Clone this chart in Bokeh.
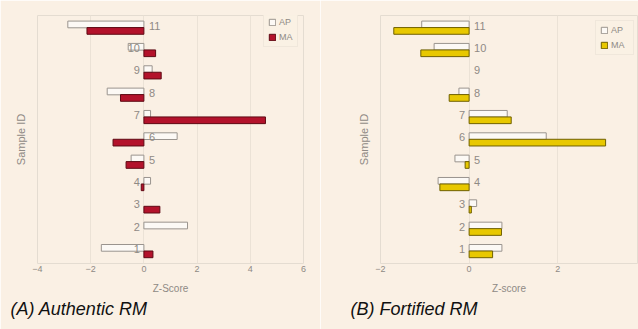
from bokeh.plotting import figure
from bokeh.layouts import row
from bokeh.models import ColumnDataSource, FixedTicker, Legend, LegendItem, Title, Range1d, LinearAxis
from bokeh.core.properties import value
from bokeh.embed import file_html
from bokeh.resources import INLINE

# ---------------- data ----------------
sample_ids = [1, 2, 3, 4, 5, 6, 7, 8, 9, 10, 11]
ap_authentic = [-1.60, 1.64, 0.0, 0.25, -0.48, 1.25, 0.25, -1.38, 0.31, -0.59, -2.86]
ma_authentic = [0.34, 0.0, 0.60, -0.10, -0.67, -1.16, 4.57, -0.88, 0.65, 0.44, -2.14]
ap_fortified = [0.74, 0.74, 0.17, -0.70, -0.32, 1.74, 0.86, -0.23, 0.0, -0.79, -1.07]
ma_fortified = [0.53, 0.73, 0.05, -0.66, -0.09, 3.08, 0.95, -0.45, 0.0, -1.09, -1.70]
x_ticks_authentic = [-4, -2, 0, 2, 4, 6]
x_ticks_fortified = [-2, 0, 2]
series_names = ["AP", "MA"]
x_titles = ["Z-Score", "Z-score"]
y_title = "Sample ID"
captions = ["(A) Authentic RM", "(B) Fortified RM"]
# side of the zero line on which each sample label is written
label_side_authentic = ["left", "left", "left", "left", "right", "right", "left", "right", "left", "left", "right"]
label_side_fortified = ["left", "left", "left", "right", "right", "left", "left", "right", "right", "right", "right"]

BG = "#faf0e4"
FONT = "Liberation Sans"
GRAY = "#8f8a84"


def make_panel(ap, ma, sides, xlim, ticks, ma_fill, ma_line, xtitle, caption,
               width, border_left, border_right, border_top, border_bottom,
               legend_loc, legend_label_width, caption_offset, caption_gap):
    p = figure(width=width, height=329, output_backend="svg", toolbar_location=None,
               x_range=Range1d(*xlim), y_range=Range1d(0.45, 11.55),
               min_border_left=border_left, min_border_right=border_right,
               min_border_top=border_top, min_border_bottom=border_bottom,
               title_location=None)
    p.background_fill_color = BG
    p.border_fill_color = BG
    p.outline_line_color = "#e4dcd1"

    def bar_source(vals, shift):
        ys = [s + shift for s, v in zip(sample_ids, vals) if v != 0]
        rs = [v for v in vals if v != 0]
        return ColumnDataSource(dict(y=ys, right=rs))

    r_ap = p.hbar(y="y", left=0, right="right", height=0.3, source=bar_source(ap, 0.15),
                  fill_color="#fcf9f5", line_color="#9a948e", line_width=1)
    r_ma = p.hbar(y="y", left=0, right="right", height=0.3, source=bar_source(ma, -0.14),
                  fill_color=ma_fill, line_color=ma_line, line_width=1)

    left_ids = [str(s) for s, sd in zip(sample_ids, sides) if sd == "left"]
    left_y = [s + 0.1 for s, sd in zip(sample_ids, sides) if sd == "left"]
    right_ids = [str(s) for s, sd in zip(sample_ids, sides) if sd == "right"]
    right_y = [s + 0.1 for s, sd in zip(sample_ids, sides) if sd == "right"]
    p.text(x=[0] * len(left_ids), y=left_y, text=left_ids, x_offset=-4,
           text_align="right", text_baseline="middle", text_font=value(FONT),
           text_font_size="11px", text_color=GRAY)
    p.text(x=[0] * len(right_ids), y=right_y, text=right_ids, x_offset=5,
           text_align="left", text_baseline="middle", text_font=value(FONT),
           text_font_size="11px", text_color=GRAY)

    xa = p.xaxis[0]
    xa.ticker = FixedTicker(ticks=ticks)
    xa.axis_line_color = None
    xa.major_tick_line_color = None
    xa.minor_tick_line_color = None
    xa.major_tick_out = 0
    xa.major_label_standoff = 2
    xa.major_label_text_font = FONT
    xa.major_label_text_font_size = "9px"
    xa.major_label_text_color = GRAY
    xa.axis_label = xtitle
    xa.axis_label_standoff = 8
    xa.axis_label_text_font = FONT
    xa.axis_label_text_font_size = "10px"
    xa.axis_label_text_font_style = "normal"
    xa.axis_label_text_color = GRAY

    ya = p.yaxis[0]
    ya.ticker = FixedTicker(ticks=[])
    ya.axis_line_color = None
    ya.major_tick_line_color = None
    ya.minor_tick_line_color = None
    ya.major_tick_out = 0
    ya.major_label_standoff = 0
    ya.axis_label = y_title
    ya.axis_label_standoff = 11
    ya.axis_label_text_font = FONT
    ya.axis_label_text_font_size = "11px"
    ya.axis_label_text_font_style = "normal"
    ya.axis_label_text_color = GRAY

    p.xgrid.ticker = FixedTicker(ticks=ticks)
    p.xgrid.grid_line_color = "#ebe2d6"
    p.ygrid.visible = False

    legend = Legend(items=[LegendItem(label=series_names[0], renderers=[r_ap]),
                           LegendItem(label=series_names[1], renderers=[r_ma])],
                    location=legend_loc)
    legend.background_fill_color = BG
    legend.border_line_color = "#e6ddd2"
    legend.glyph_width = 8
    legend.glyph_height = 8
    legend.label_height = 10
    legend.label_width = legend_label_width
    legend.label_standoff = 3
    legend.label_text_font = FONT
    legend.label_text_font_size = "9px"
    legend.label_text_color = GRAY
    legend.spacing = 5
    legend.padding = 4
    legend.margin = 0
    p.add_layout(legend)

    # invisible spacer between the axis title and the caption
    spacer = LinearAxis(ticker=FixedTicker(ticks=[]), axis_line_color=None,
                        major_tick_line_color=None, minor_tick_line_color=None,
                        major_tick_in=0, major_tick_out=caption_gap,
                        minor_tick_in=0, minor_tick_out=0, major_label_standoff=0)
    p.add_layout(spacer, "below")

    cap = Title(text=caption, align="left", offset=caption_offset,
                text_font=FONT, text_font_size="18px", text_font_style="italic",
                text_color="#111111", standoff=0)
    p.add_layout(cap, "below")
    return p


p1 = make_panel(ap_authentic, ma_authentic, label_side_authentic, (-4, 6), x_ticks_authentic,
                "#b3122b", "#5e0a14", x_titles[0], captions[0],
                320, 37, 17, 12, 66, (226, 216), 12, -27, 12)
p2 = make_panel(ap_fortified, ma_fortified, label_side_fortified, (-2, 3.8), x_ticks_fortified,
                "#e8c800", "#6f6000", x_titles[1], captions[1],
                318, 60, 1, 15, 64, (215, 208), 18, -30, 10)

layout = row(p1, p2)
html = file_html(layout, INLINE)
html = html.replace("<body>", '<body style="background-color:#faf0e4;">', 1)
open("out.html", "w").write(html)
